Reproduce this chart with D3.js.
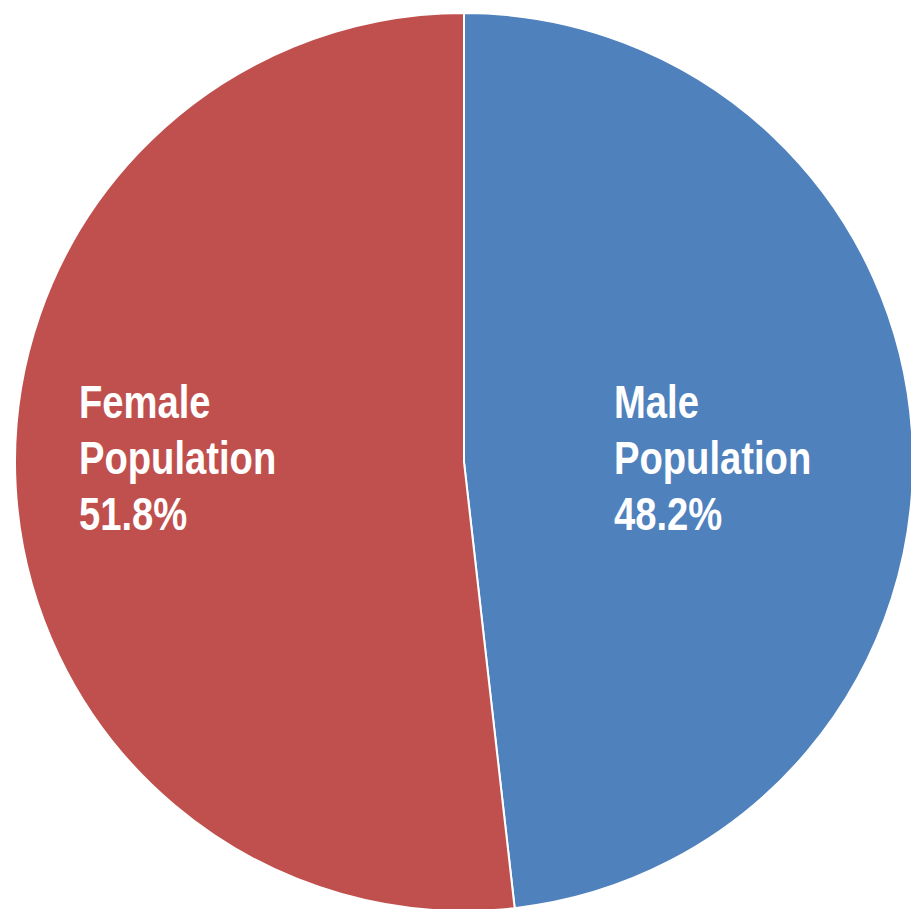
<!DOCTYPE html>
<html>
<head>
<meta charset="utf-8">
<script src="https://cdn.jsdelivr.net/npm/d3@7"></script>
<style>
  body { margin: 0; background: #fff; }
  text { font-family: "Liberation Sans", Arial, sans-serif; font-weight: bold; }
</style>
</head>
<body>
<div id="chart"></div>
<script>
// data
const categories = ["Male", "Female"];
const values = [48.2, 51.8];
const colors = ["#4F81BD", "#C0504D"];

const width = 911,
  height = 909,
  cx = 464,
  cy = 462,
  radius = 449;

const svg = d3.select("#chart")
  .append("svg")
  .attr("width", width)
  .attr("height", height);

const pie = d3.pie().sort(null).value(d => d.value);
const arcs = pie(categories.map((c, i) => ({ name: c, value: values[i], color: colors[i] })));

const arc = d3.arc().innerRadius(0).outerRadius(radius);

const g = svg.append("g").attr("transform", `translate(${cx},${cy})`);

g.selectAll("path")
  .data(arcs)
  .join("path")
  .attr("d", arc)
  .attr("fill", d => d.data.color)
  .attr("stroke", "#fff")
  .attr("stroke-width", 2);

// labels - left aligned blocks, squeezed to look condensed
const labelX = { Male: 614 - cx, Female: 79 - cx };
const label = g.selectAll(".label")
  .data(arcs)
  .join("text")
  .attr("class", "label")
  .attr("fill", "#fff")
  .attr("font-size", 46)
  .attr("transform", d => `translate(${labelX[d.data.name]},${418 - cy}) scale(0.83,1)`);

label.append("tspan")
  .attr("x", 0)
  .text(d => d.data.name);
label.append("tspan")
  .attr("x", 0)
  .attr("dy", 56)
  .text("Population");
label.append("tspan")
  .attr("x", 0)
  .attr("dy", 56)
  .text(d => d.data.value.toFixed(1) + "%");
</script>
</body>
</html>
